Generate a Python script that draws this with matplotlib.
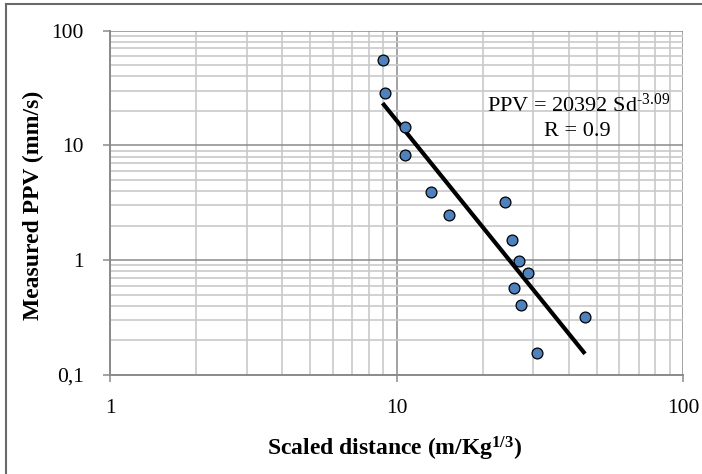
import matplotlib
matplotlib.use("Agg")
import matplotlib.pyplot as plt
from matplotlib.ticker import FixedLocator, FixedFormatter, LogLocator, NullFormatter
from matplotlib.lines import Line2D

plt.rcParams['font.family'] = ['Liberation Serif', 'DejaVu Serif']
plt.rcParams['mathtext.fontset'] = 'custom'
plt.rcParams['mathtext.rm'] = 'Liberation Serif'
plt.rcParams['mathtext.bf'] = 'Liberation Serif:bold'
plt.rcParams['mathtext.it'] = 'Liberation Serif:italic'

# Data
scaled_distance = [9.0, 9.11, 10.75, 10.7, 13.2, 15.3, 23.9, 25.4, 26.8, 28.7, 25.8, 27.2, 45.5, 30.9]
measured_ppv = [55.8, 28.4, 14.4, 8.26, 3.96, 2.49, 3.2, 1.49, 0.987, 0.78, 0.574, 0.409, 0.317, 0.155]
trend_x = [8.94, 45.5]
trend_y = [23.4, 0.153]
x_ticks = [1, 10, 100]
x_tick_labels = ['1', '10', '100']
y_ticks = [0.1, 1, 10, 100]
y_tick_labels = ['0,1', '1', '10', '100']

W, H = 702, 474
fig = plt.figure(figsize=(W / 100, H / 100), dpi=100)
L, R, T, B = 110, 683, 30.7, 375
ax = fig.add_axes([L / W, 1 - B / H, (R - L) / W, (B - T) / H])

ax.set_xscale('log')
ax.set_yscale('log')
ax.set_xlim(1, 100)
ax.set_ylim(0.1, 100)

minor_color = '#c9c9c9'
major_color = '#8a8a8a'
ax.xaxis.set_minor_locator(LogLocator(base=10, subs=range(2, 10)))
ax.yaxis.set_minor_locator(LogLocator(base=10, subs=range(2, 10)))
ax.xaxis.set_minor_formatter(NullFormatter())
ax.yaxis.set_minor_formatter(NullFormatter())
ax.grid(which='minor', color=minor_color, linewidth=1.2, zorder=0)
ax.grid(which='major', color=major_color, linewidth=1.1, zorder=0)
ax.set_axisbelow(True)

ax.xaxis.set_major_locator(FixedLocator(x_ticks))
ax.xaxis.set_major_formatter(FixedFormatter(x_tick_labels))
ax.yaxis.set_major_locator(FixedLocator(y_ticks))
ax.yaxis.set_major_formatter(FixedFormatter(y_tick_labels))

ax.tick_params(which='minor', length=0)
ax.tick_params(which='major', direction='out', length=5, width=1.1, color=major_color,
               labelsize=15.5, pad=12)
ax.tick_params(axis='y', pad=14)

for s in ['top', 'right']:
    ax.spines[s].set_visible(False)
for s in ['left', 'bottom']:
    ax.spines[s].set_color(major_color)
    ax.spines[s].set_linewidth(1.4)

ax.plot(trend_x, trend_y, color='black', linewidth=3, solid_capstyle='butt', zorder=3)
ax.plot(scaled_distance, measured_ppv, linestyle='none', marker='o', markersize=7.8,
        markerfacecolor='#4f81bd', markeredgecolor='black', markeredgewidth=0.9, zorder=4)

ax.text(0.817, 0.784, 'PPV = 20392 Sd$^{\\mathregular{\u20103.09}}$', transform=ax.transAxes,
        ha='center', va='center', fontsize=16)
ax.text(0.815, 0.7067, 'R = 0.9', transform=ax.transAxes,
        ha='center', va='center', fontsize=16)

fig.text(395 / W, 1 - 449 / H, r'Scaled distance (m/Kg$^{\mathbf{1/3}}$)',
         ha='center', va='center', fontsize=17, fontweight='bold')
fig.text(33 / W, 1 - 205 / H, 'Measured PPV (mm/s)', rotation=90,
         ha='center', va='center', fontsize=17, fontweight='bold')

# figure border (left and top visible)
fig.add_artist(Line2D([6 / W, 6 / W], [0, 1 - 4 / H], transform=fig.transFigure,
                      color='#6a6a6a', linewidth=1.5))
fig.add_artist(Line2D([6 / W, 1], [1 - 4 / H, 1 - 4 / H], transform=fig.transFigure,
                      color='#6a6a6a', linewidth=1.5))

fig.savefig('out.png', dpi=100)
